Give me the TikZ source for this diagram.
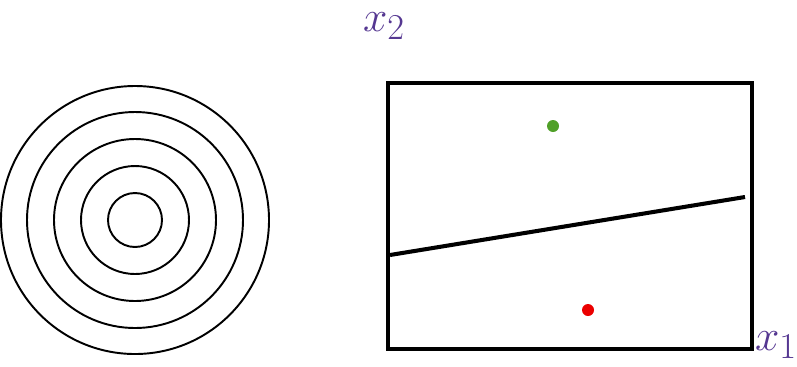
\documentclass[tikz,border=0pt]{standalone}
\usepackage{tikz}
\usetikzlibrary{calc}
\definecolor{axispurple}{RGB}{85,55,145}
\definecolor{dotgreen}{RGB}{80,160,40}
\definecolor{dotred}{RGB}{235,0,0}

\begin{document}
\begin{tikzpicture}[
    x=0.02cm, y=-0.02cm,
    ring/.style={draw, line width=1.1pt},
    frame/.style={draw, line width=2.3pt},
    axislabel/.style={text=axispurple, font=\Huge, inner sep=0pt},
    sample/.style={circle, inner sep=0pt, minimum size=0.24cm}
]
\useasboundingbox (0,0) rectangle (797,366);

% contour rings
\coordinate (centre) at (135,220);
\foreach \r in {27,54,81,108,134}
    \draw[ring] (centre) circle (\r);

% feature space
\coordinate (box_nw) at (388,83);
\coordinate (box_se) at (752,349);
\draw[frame] (box_nw) rectangle (box_se);
\node (label_x2) [axislabel] at (384,26) {$x_2$};
\node (label_x1) [axislabel] at (776,345) {$x_1$};

\node (point_green) [sample, fill=dotgreen] at (553,126) {};
\node (point_red) [sample, fill=dotred] at (588,310) {};

\coordinate (boundary_left) at (390,255);
\coordinate (boundary_right) at (745,197);
\draw[frame] (boundary_left) -- (boundary_right);
\end{tikzpicture}
\end{document}
